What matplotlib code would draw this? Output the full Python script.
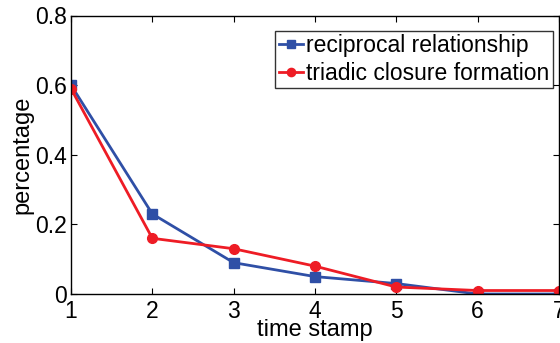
import matplotlib
matplotlib.use("Agg")
import matplotlib.pyplot as plt

plt.rcParams['font.family'] = ['Liberation Sans', 'DejaVu Sans']

# time stamps and the two series
steps = [1, 2, 3, 4, 5, 6, 7]
reciprocal = [0.60, 0.23, 0.09, 0.05, 0.03, 0.0, 0.0]
triadic = [0.59, 0.16, 0.13, 0.08, 0.02, 0.01, 0.01]

fig = plt.figure(figsize=(5.6, 3.43), dpi=100)
ax = fig.add_axes([71 / 560, 1 - 294 / 343, 488 / 560, 278.5 / 343])

ax.plot(steps, reciprocal, '-s', color='#2f4fa6', lw=2, ms=6.5,
        label='reciprocal relationship')
ax.plot(steps, triadic, '-o', color='#ee1c25', lw=2, ms=7,
        label='triadic closure formation')

ax.set_xlim(1, 7)
ax.set_ylim(0, 0.8)
ax.set_xticks(steps)
ax.set_yticks([0, 0.2, 0.4, 0.6, 0.8])
ax.set_yticklabels(['0', '0.2', '0.4', '0.6', '0.8'])
ax.tick_params(direction='in', top=True, right=True, length=4,
               labelsize=16.5, pad=4)
ax.tick_params(axis='y', pad=3)
ax.set_xlabel('time stamp', fontsize=17)
ax.xaxis.set_label_coords(315 / 560, 1 - 319 / 343, transform=fig.transFigure)
ax.set_ylabel('percentage', fontsize=17, labelpad=1)
for s in ax.spines.values():
    s.set_linewidth(1)

leg = ax.legend(loc='upper right', fontsize=16.5, frameon=True, fancybox=False,
                edgecolor='black', handlelength=1.05, handletextpad=0.15,
                borderpad=0.15, labelspacing=0.2, borderaxespad=0.0,
                markerscale=0.85)
leg.set_bbox_to_anchor((553 / 560, 1 - 31 / 343), transform=fig.transFigure)
leg.get_frame().set_linewidth(1)

fig.savefig('out.png', dpi=100)
